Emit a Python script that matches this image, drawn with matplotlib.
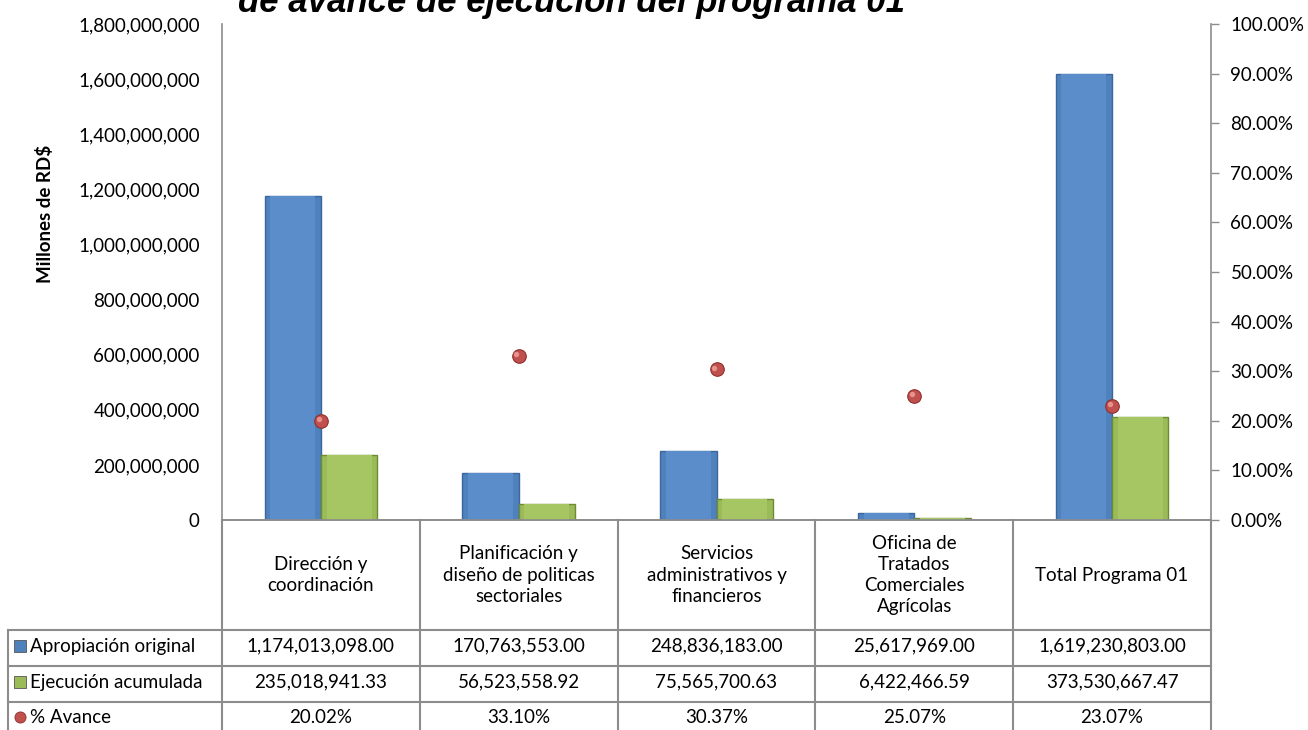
import numpy as np
import matplotlib
matplotlib.use("Agg")
import matplotlib.pyplot as plt
from matplotlib.ticker import FuncFormatter, MultipleLocator
from matplotlib.lines import Line2D
import matplotlib.transforms as mtransforms

categorias = ["Dirección y\ncoordinación",
              "Planificación y\ndiseño de politicas\nsectoriales",
              "Servicios\nadministrativos y\nfinancieros",
              "Oficina de\nTratados\nComerciales\nAgrícolas",
              "Total Programa 01"]
apropiacion = [1174013098.00, 170763553.00, 248836183.00, 25617969.00, 1619230803.00]
ejecucion = [235018941.33, 56523558.92, 75565700.63, 6422466.59, 373530667.47]
avance = [20.02, 33.10, 30.37, 25.07, 23.07]
series = ["Apropiación original", "Ejecución acumulada", "% Avance"]

azul = "#4F81BD"
verde = "#9BBB59"
rojo = "#C0504D"
gris = "#8C8C8C"
fs = 13.5

plt.rcParams["font.family"] = ["Lato", "DejaVu Sans"]

fig = plt.figure(figsize=(13.08, 7.30), dpi=100)
ax = fig.add_axes([222 / 1308, 1 - 520 / 730, (1211 - 222) / 1308, (520 - 24) / 730])
ax2 = ax.twinx()

x = np.arange(len(categorias))
w = 0.285
ax.bar(x - w / 2, apropiacion, w, color=azul, edgecolor="#3B679C", linewidth=1.0, zorder=2)
ax.bar(x + w / 2, ejecucion, w, color=verde, edgecolor="#6E8A32", linewidth=1.0, zorder=2)
# soft highlight band to hint at the bevelled look
ax.bar(x - w / 2, apropiacion, w * 0.8, color="#5B8DCB", linewidth=0, zorder=3)
ax.bar(x + w / 2, ejecucion, w * 0.8, color="#A5C663", linewidth=0, zorder=3)

ax2.scatter(x, avance, s=95, color=rojo, edgecolor="#8E2F2C", linewidth=0.8, zorder=5)
ax2.scatter(x - 0.012, np.array(avance) + 0.35, s=15, color="#E69390", linewidth=0, zorder=6)

ax.set_xlim(-0.5, len(categorias) - 0.5)
ax.set_ylim(0, 1800000000)
ax.yaxis.set_major_locator(MultipleLocator(200000000))
ax.yaxis.set_major_formatter(FuncFormatter(lambda v, p: f"{v:,.0f}"))
ax2.set_ylim(0, 100)
ax2.yaxis.set_major_locator(MultipleLocator(10))
ax2.yaxis.set_major_formatter(FuncFormatter(lambda v, p: f"{v:.2f}%"))

ax.set_xticks([])
ax.tick_params(axis="y", length=0, pad=16, labelsize=fs)
ax2.tick_params(axis="y", length=6, width=1, color=gris, pad=8, labelsize=fs)
for a in (ax, ax2):
    a.spines["top"].set_visible(False)
    for s in ("left", "right", "bottom"):
        a.spines[s].set_color(gris)
        a.spines[s].set_linewidth(1.2)
ax2.spines["left"].set_visible(False)
ax.spines["right"].set_visible(False)

ax.set_ylabel("Millones de RD$", fontsize=fs, fontweight="bold")
ax.yaxis.set_label_coords(-0.17, 0.617)

fig.text(0.437, 1 - 12 / 730, "de avance de ejecución del programa 01",
         family="Liberation Sans", fontsize=25, fontweight="bold", style="italic",
         ha="center", va="baseline")

# data table below the plot
tr = mtransforms.blended_transform_factory(ax.transData, ax.transAxes)
ax_h = 496
filas = [-110 / ax_h, -146 / ax_h, -182 / ax_h, -215 / ax_h]
x_left = -0.5 - (222 - 8) / (989 / len(categorias))
x_right = len(categorias) - 0.5
lc = dict(color=gris, linewidth=1.5, transform=tr, clip_on=False)

for yy in filas[:3]:
    ax.add_artist(Line2D([x_left, x_right], [yy, yy], **lc))
for b in np.arange(len(categorias) + 1) - 0.5:
    ax.add_artist(Line2D([b, b], [0, filas[3]], **lc))
ax.add_artist(Line2D([x_left, x_left], [filas[0], filas[3]], **lc))

for i, cat in enumerate(categorias):
    ax.text(x[i], filas[0] / 2, cat, transform=tr, ha="center", va="center",
            fontsize=fs, linespacing=1.3)

valores = [[f"{v:,.2f}" for v in apropiacion],
           [f"{v:,.2f}" for v in ejecucion],
           [f"{v:.2f}%" for v in avance]]
marcas = [("s", azul), ("s", verde), ("o", rojo)]
for r in range(3):
    yc = (filas[r] + filas[r + 1]) / 2 + (0.004 if r < 2 else 0.003)
    for i in range(len(categorias)):
        ax.text(x[i], yc, valores[r][i], transform=tr, ha="center", va="center", fontsize=fs)
    m, c = marcas[r]
    ax.plot([x_left + 0.06], [yc], marker=m, markersize=8, color=c, transform=tr, clip_on=False,
            markeredgecolor="#555555" if m == "s" else "#8E2F2C", markeredgewidth=0.6)
    ax.text(x_left + 0.11, yc, series[r], transform=tr, ha="left", va="center", fontsize=fs)

fig.savefig("out.png", dpi=100)
